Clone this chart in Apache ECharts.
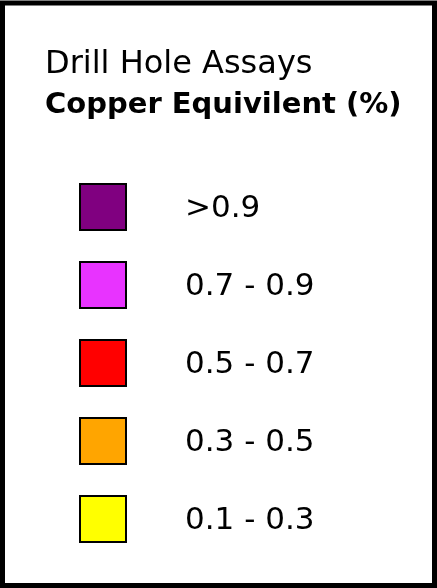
<!DOCTYPE html>
<html>
<head>
<meta charset="utf-8">
<script src="https://cdn.jsdelivr.net/npm/echarts@6/dist/echarts.min.js"></script>
<style>
html,body{margin:0;padding:0;background:#fff;}
#chart{width:437px;height:588px;}
</style>
</head>
<body>
<div id="chart"></div>
<script>
const titleLine1 = 'Drill Hole Assays';
const titleLine2 = 'Copper Equivilent (%)';
const classes = ['>0.9', '0.7 - 0.9', '0.5 - 0.7', '0.3 - 0.5', '0.1 - 0.3'];
const classColors = ['#800080', '#e833ff', '#ff0000', '#ffa500', '#ffff00'];

const FONT = '"DejaVu Sans", sans-serif';
const chart = echarts.init(document.getElementById('chart'), null, {renderer: 'canvas'});
chart.setOption({
  backgroundColor: '#ffffff',
  animation: false,
  title: [
    {text: titleLine1, left: 40, top: 44, textStyle: {fontFamily: FONT, fontSize: 32, fontWeight: 'normal', color: '#000'}},
    {text: titleLine2, left: 40, top: 86, textStyle: {fontFamily: FONT, fontSize: 29, fontWeight: 'bold', color: '#000'}}
  ],
  grid: {left: 79, width: 48, top: 168, height: 390},
  xAxis: {type: 'category', data: ['k'], show: false},
  yAxis: {type: 'category', data: classes, inverse: true, show: false},
  series: [{
    type: 'scatter',
    symbol: 'rect',
    symbolSize: 46,
    itemStyle: {opacity: 1},
    data: classes.map((c, i) => ({
      value: ['k', c],
      itemStyle: {color: classColors[i], borderColor: '#000', borderWidth: 2, opacity: 1}
    })),
    label: {
      show: true,
      position: 'right',
      distance: 58,
      formatter: p => '{t|' + p.value[1] + '}',
      rich: {
        t: {fontFamily: FONT, fontSize: 31, color: '#000', lineHeight: 36, padding: [4, 0, 0, 0]}
      }
    },
    emphasis: {disabled: true}
  }],
  graphic: [{
    type: 'rect',
    shape: {x: 2.5, y: 3, width: 432, height: 582.5},
    style: {fill: 'none', stroke: '#000', lineWidth: 5},
    silent: true
  }]
});
</script>
</body>
</html>
